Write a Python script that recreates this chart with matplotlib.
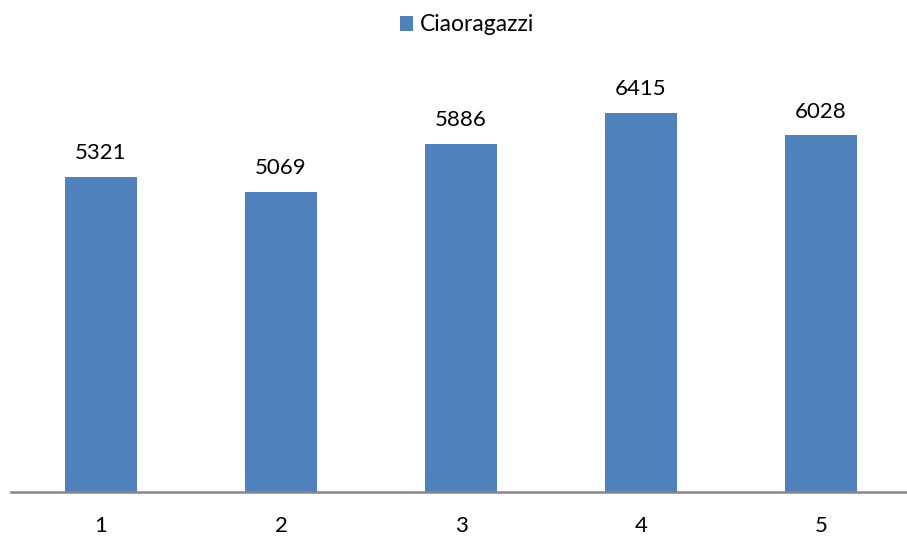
import matplotlib.pyplot as plt

# data
categories = [1, 2, 3, 4, 5]
values = [5321, 5069, 5886, 6415, 6028]
series_name = 'Ciaoragazzi'

plt.rcParams['font.family'] = ['Lato', 'DejaVu Sans']

fig = plt.figure(figsize=(9.07, 5.37), dpi=100)
ax = fig.add_axes([11 / 907, 1 - 492 / 537, 1 - 11 / 907, (492 - 78) / 537])

bars = ax.bar(categories, values, width=0.395, color='#4F81BD', label=series_name)

for b, v in zip(bars, values):
    ax.annotate(f'{v}', (b.get_x() + b.get_width() / 2, v),
                xytext=(0, 10), textcoords='offset points',
                ha='center', va='bottom', fontsize=16, color='black')

ax.set_xlim(0.5, 0.5 + 896 / 180)
ax.set_ylim(0, 7000)
ax.set_xticks(categories)
ax.set_xticklabels([str(c) for c in categories], fontsize=16)
ax.tick_params(axis='x', length=0, pad=17)
ax.set_yticks([])

for s in ['top', 'right', 'left']:
    ax.spines[s].set_visible(False)
ax.spines['bottom'].set_color('#868686')
ax.spines['bottom'].set_linewidth(1.8)

fig.legend(loc='center', bbox_to_anchor=(467 / 907, 1 - 25 / 537), frameon=False,
           fontsize=16.5, handlelength=0.6, handleheight=0.6, handletextpad=0.3)

plt.savefig('out.png', dpi=100)
